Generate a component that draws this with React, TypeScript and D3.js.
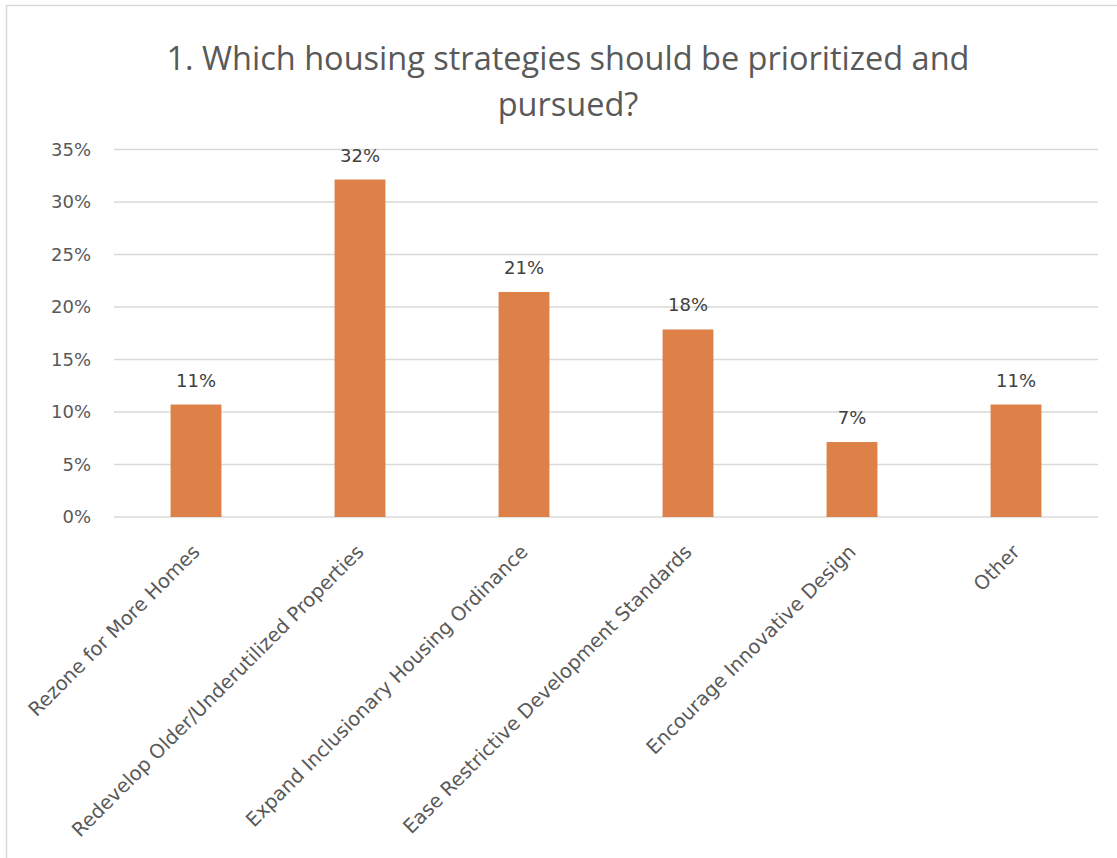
import React from "react";
import * as d3 from "d3";

const categories = [
  "Rezone for More Homes",
  "Redevelop Older/Underutilized Properties",
  "Expand Inclusionary Housing Ordinance",
  "Ease Restrictive Development Standards",
  "Encourage Innovative Design",
  "Other",
];
const values = [0.1071, 0.3214, 0.2143, 0.1786, 0.0714, 0.1071];
const dataLabels = ["11%", "32%", "21%", "18%", "7%", "11%"];
const yTicks = [0, 0.05, 0.1, 0.15, 0.2, 0.25, 0.3, 0.35];
const titleLines = ["1. Which housing strategies should be prioritized and", "pursued?"];

const W = 1117;
const H = 858;
const plot = { left: 114, right: 1098, top: 149.5, bottom: 517 };
const FONT = "'DejaVu Sans', 'Open Sans', sans-serif";
const TITLE_FONT = "'Open Sans', 'DejaVu Sans', sans-serif";

export default function App() {
  const x = d3
    .scaleBand<string>()
    .domain(categories)
    .range([plot.left, plot.right])
    .paddingInner(0.69)
    .paddingOuter(0.345);
  const y = d3.scaleLinear().domain([0, 0.35]).range([plot.bottom, plot.top]);
  const fmt = d3.format(".0%");

  return (
    <svg
      width={W}
      height={H}
      style={{ position: "absolute", left: 0, top: 0, background: "#fff" }}
      fontFamily={FONT}
    >
      <rect x={6.5} y={5.5} width={1130} height={870} fill="#fff" stroke="#d9d9d9" strokeWidth={1.5} />
      {titleLines.map((t, i) => (
        <text
          key={i}
          x={568}
          y={70 + i * 46}
          textAnchor="middle"
          fontSize={32.5}
          fontFamily={TITLE_FONT}
          fill="#595959"
        >
          {t}
        </text>
      ))}
      {yTicks.map((t) => (
        <g key={t}>
          <line
            x1={plot.left}
            x2={plot.right}
            y1={y(t)}
            y2={y(t)}
            stroke="#d9d9d9"
            strokeWidth={1.5}
          />
          <text
            x={91}
            y={y(t)}
            dy="0.35em"
            textAnchor="end"
            fontSize={18}
            fill="#595959"
          >
            {fmt(t)}
          </text>
        </g>
      ))}
      {categories.map((c, i) => {
        const bx = x(c)!;
        const bw = x.bandwidth();
        const top = y(values[i]);
        const cx = bx + bw / 2;
        return (
          <g key={c}>
            <rect x={bx} y={top} width={bw} height={plot.bottom - top} fill="#de8149" />
            <text
              x={cx}
              y={top - 18}
              textAnchor="middle"
              fontSize={18}
              fill="#404040"
            >
              {dataLabels[i]}
            </text>
            <text
              transform={`translate(${cx + 5},${553}) rotate(-45)`}
              textAnchor="end"
              fontSize={19.5}
              fill="#595959"
            >
              {c}
            </text>
          </g>
        );
      })}
    </svg>
  );
}
